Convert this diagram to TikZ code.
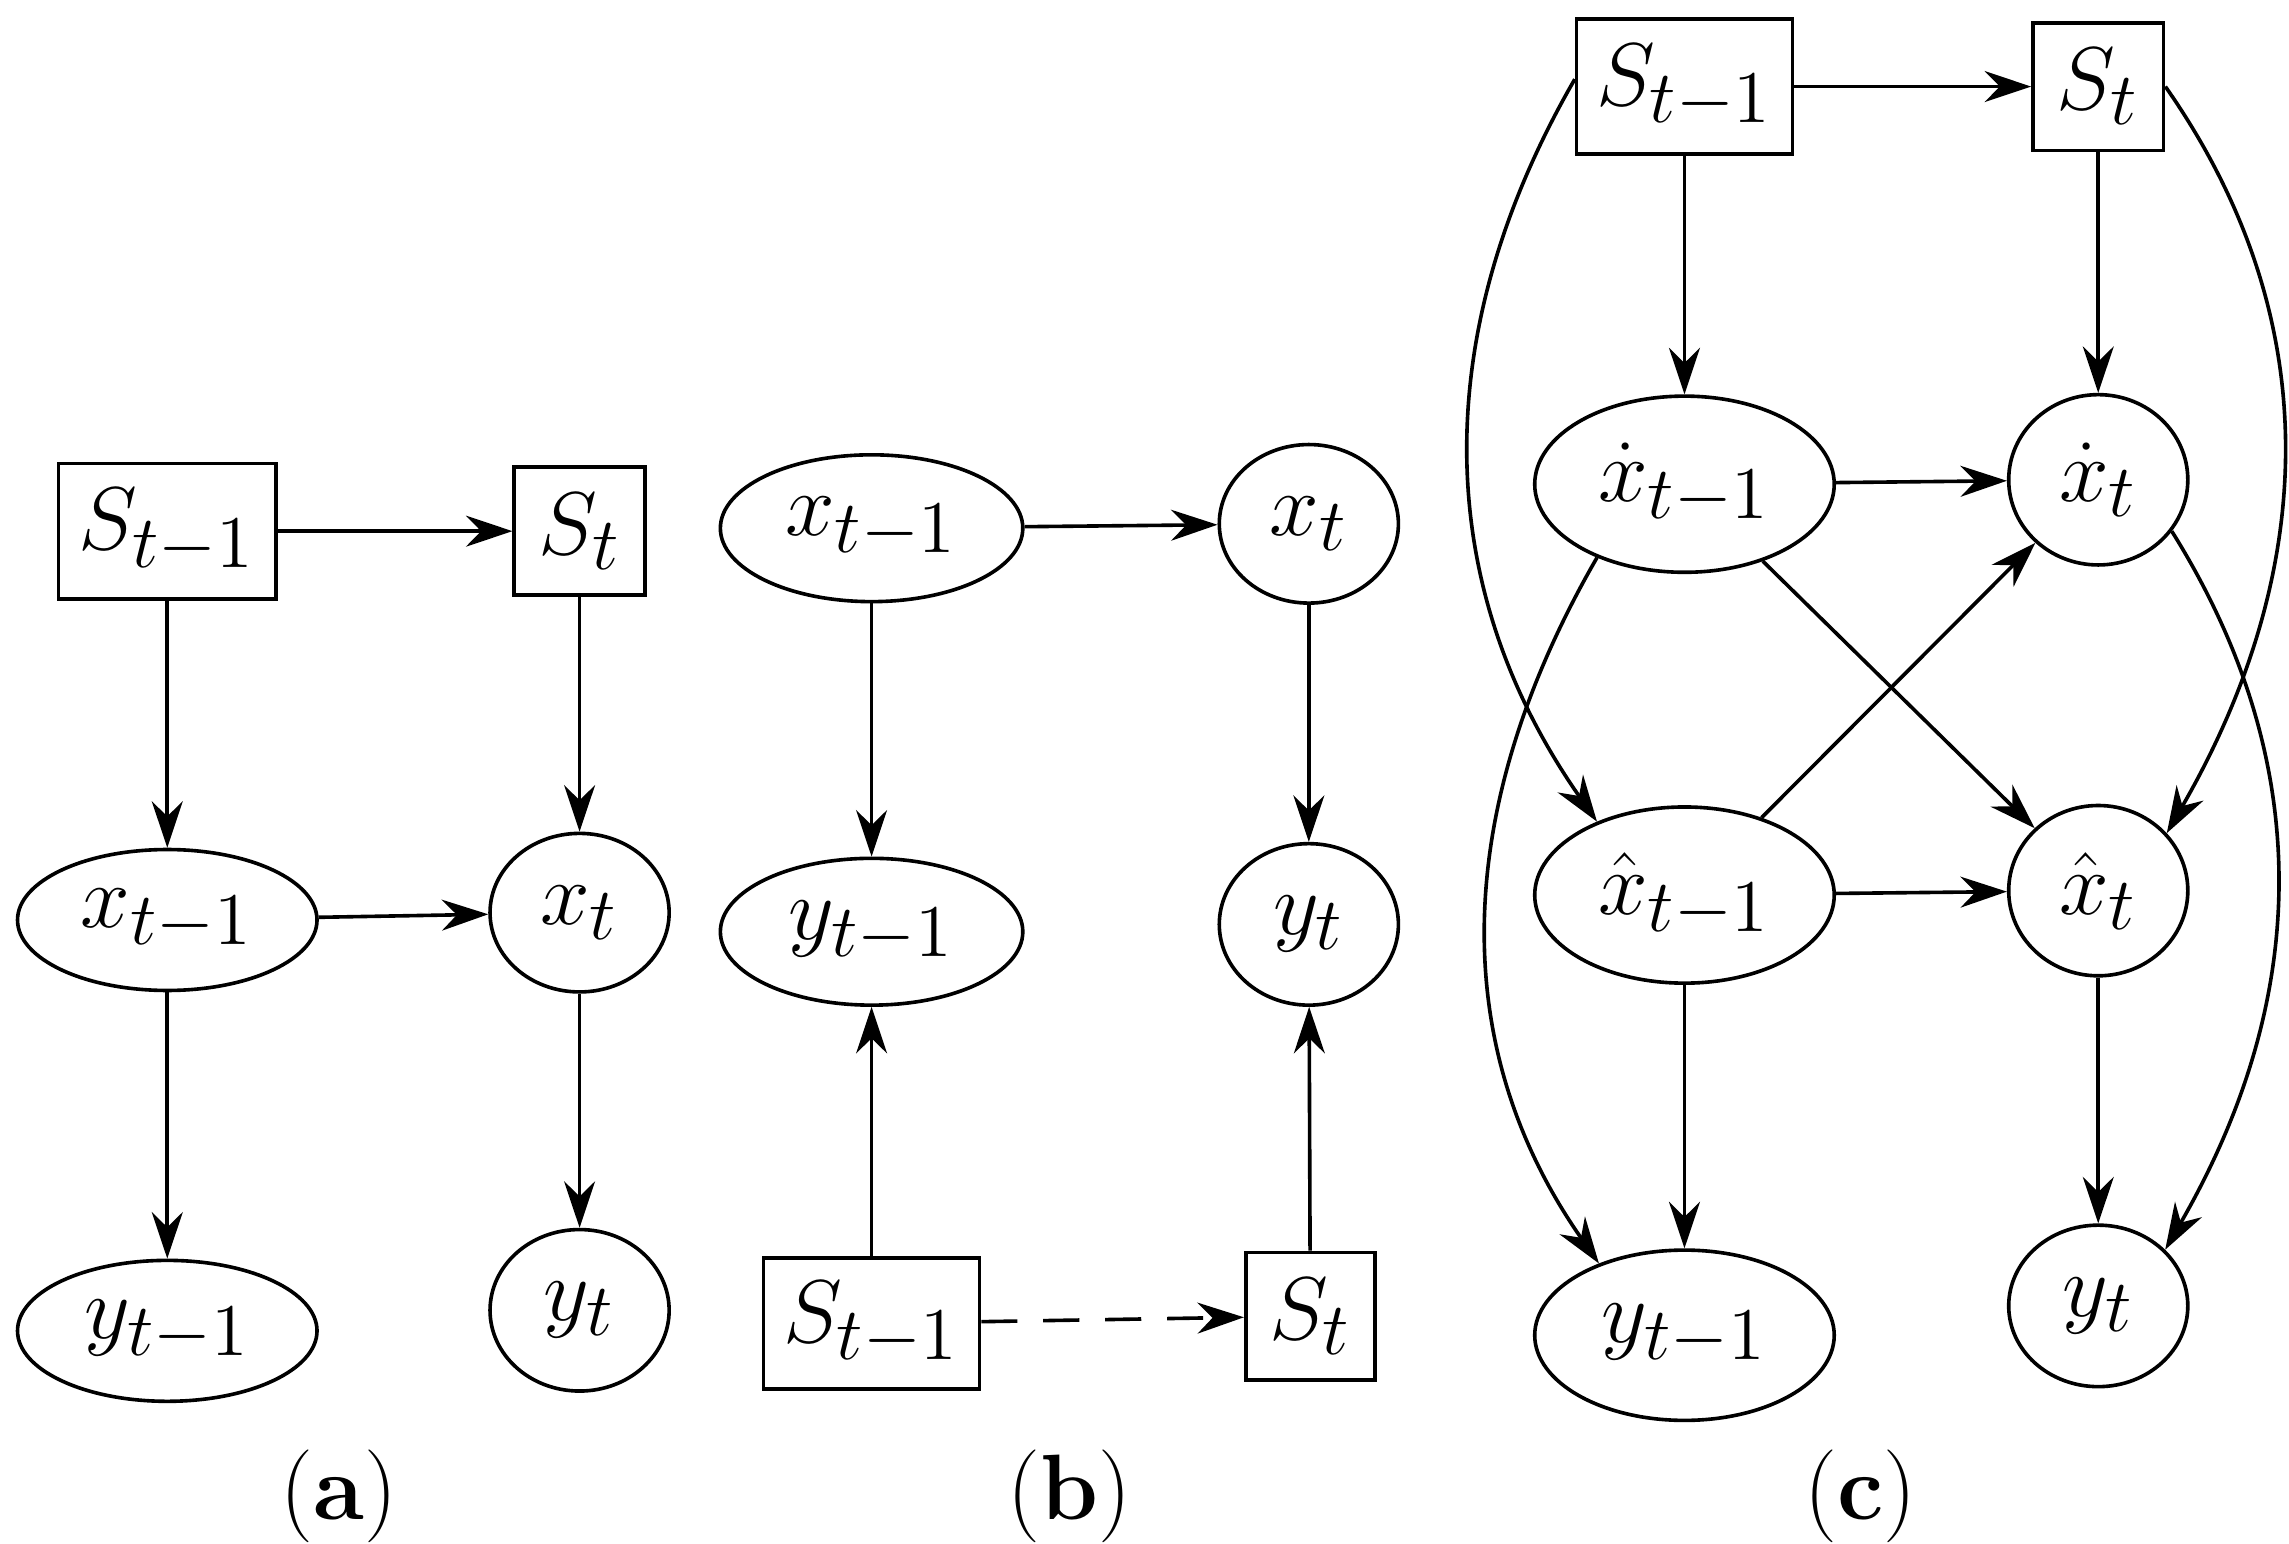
\documentclass[tikz,border=0pt]{standalone}
\usetikzlibrary{arrows.meta,shapes.geometric}
\begin{document}
\begin{tikzpicture}[x=0.01cm,y=-0.01cm,
  every node/.style={font=\fontsize{19}{22}\selectfont},
  el/.style={draw,ellipse,line width=0.7pt,inner sep=0pt},
  bx/.style={draw,rectangle,line width=0.7pt,inner sep=0pt},
  ar/.style={line width=0.7pt,-{Stealth[length=9pt,width=6pt]}},
  lab/.style={font=\fontsize{18}{22}\selectfont}]
\useasboundingbox (0,0) rectangle (1560,1052);
% (a)
\node[bx,minimum width=1.48cm,minimum height=0.92cm] (aS1) at (114,362) {$S_{t-1}$};
\node[bx,minimum width=0.89cm,minimum height=0.87cm] (aS2) at (395,362) {$S_t$};
\node[el,minimum width=2.04cm,minimum height=0.96cm] (ax1) at (114,627) {$x_{t-1}$};
\node[el,minimum width=1.22cm,minimum height=1.08cm] (ax2) at (395,622) {$x_t$};
\node[el,minimum width=2.04cm,minimum height=0.96cm] (ay1) at (114,907) {$y_{t-1}$};
\node[el,minimum width=1.22cm,minimum height=1.1cm] (ay2) at (395,893) {$y_t$};
\draw[ar] (aS1) -- (aS2);
\draw[ar] (aS1) -- (ax1);
\draw[ar] (ax1) -- (ay1);
\draw[ar] (aS2) -- (ax2);
\draw[ar] (ax2) -- (ay2);
\draw[ar] (ax1) -- (ax2);
\node[lab] (la) at (231,1020) {(\textbf{a})};
% (b)
\node[el,minimum width=2.06cm,minimum height=1cm] (bx1) at (594,360) {$x_{t-1}$};
\node[el,minimum width=1.22cm,minimum height=1.08cm] (bx2) at (892,357) {$x_t$};
\node[el,minimum width=2.06cm,minimum height=1cm] (by1) at (594,635) {$y_{t-1}$};
\node[el,minimum width=1.22cm,minimum height=1.1cm] (by2) at (892,630) {$y_t$};
\node[bx,minimum width=1.47cm,minimum height=0.89cm] (bS1) at (594,902) {$S_{t-1}$};
\node[bx,minimum width=0.88cm,minimum height=0.87cm] (bS2) at (893,897) {$S_t$};
\draw[ar] (bx1) -- (bx2);
\draw[ar] (bx1) -- (by1);
\draw[ar] (bx2) -- (by2);
\draw[ar] (bS1) -- (by1);
\draw[ar] (bS2) -- (by2);
\draw[ar,dashed,dash pattern=on 7pt off 5pt] (bS1) -- (bS2);
\node[lab] (lb) at (729,1020) {(\textbf{b})};
% (c)
\node[bx,minimum width=1.47cm,minimum height=0.92cm] (cS1) at (1148,59) {$S_{t-1}$};
\node[bx,minimum width=0.89cm,minimum height=0.87cm] (cS2) at (1430,59) {$S_t$};
\node[el,minimum width=2.04cm,minimum height=1.2cm] (cd1) at (1148,330) {$\dot{x}_{t-1}$};
\node[el,minimum width=1.22cm,minimum height=1.16cm] (cd2) at (1430,327) {$\dot{x}_t$};
\node[el,minimum width=2.04cm,minimum height=1.2cm] (ch1) at (1148,610) {$\hat{x}_{t-1}$};
\node[el,minimum width=1.22cm,minimum height=1.16cm] (ch2) at (1430,607) {$\hat{x}_t$};
\node[el,minimum width=2.04cm,minimum height=1.16cm] (cy1) at (1148,910) {$y_{t-1}$};
\node[el,minimum width=1.22cm,minimum height=1.1cm] (cy2) at (1430,890) {$y_t$};
\draw[ar] (cS1) -- (cS2);
\draw[ar] (cS1) -- (cd1);
\draw[ar] (cS2) -- (cd2);
\draw[ar] (cd1) -- (cd2);
\draw[ar] (cd1) -- (ch2);
\draw[ar] (ch1) -- (cd2);
\draw[ar] (ch1) -- (ch2);
\draw[ar] (ch1) -- (cy1);
\draw[ar] (ch2) -- (cy2);
\draw[ar] (cS1.west) ++(0,-5) coordinate (c1) (c1) to[out=240,in=125] (ch1.140);
\draw[ar] (cd1.220) to[out=240,in=125] (cy1.140);
\draw[ar] (cS2.east) to[out=-55,in=60] (ch2.40);
\draw[ar] (cd2.-35) to[out=-58,in=60] (cy2.40);
\node[lab] (lc) at (1268,1020) {(\textbf{c})};
\end{tikzpicture}
\end{document}
